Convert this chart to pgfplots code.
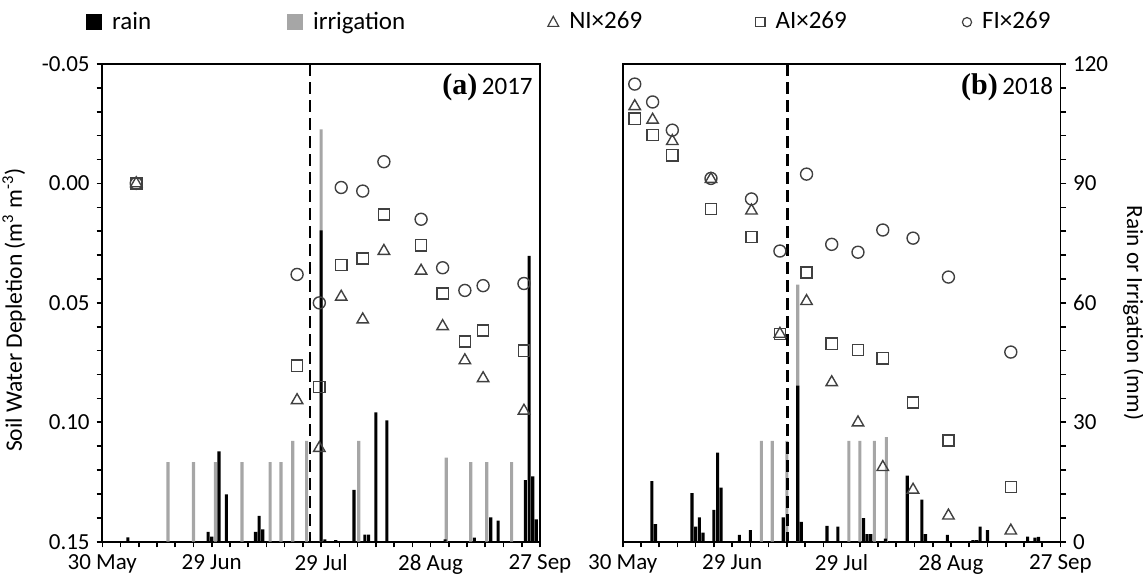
\documentclass[border=0pt]{standalone}
\usepackage{pgfplots}
\pgfplotsset{compat=1.18}
\usepackage{fontspec}
\setmainfont{Carlito}
\newfontfamily\timesfont{Liberation Serif}
\definecolor{irr}{HTML}{A6A6A6}
\definecolor{mk}{HTML}{404040}
\pgfplotsset{
  base/.style={
    scale only axis, width=218.85pt, height=238.85pt,
    xmin=0, xmax=120,
    axis line style={line width=0.9pt, black},
    tick style={line width=0.8pt, black},
    major tick length=2.8pt, minor tick length=2.8pt,
    tick align=outside,
    tick label style={font=\fontsize{11.5}{13}\selectfont},
  },
  bars/.style={ybar, bar width=0.85, bar shift=0pt, draw=none},
  NI/.style={only marks, mark=triangle, mark size=3.3pt, color=mk, mark options={line width=0.7pt}},
  AI/.style={only marks, mark=square, mark size=2.8pt, color=mk, mark options={line width=0.7pt}},
  FI/.style={only marks, mark=o, mark size=3pt, color=mk, mark options={line width=0.7pt}},
  dashln/.style={black, line width=1.1pt, dash pattern=on 6pt off 3pt},
  datex/.style={xtick={0,30,60,90,120}, xticklabels={30 May,29 Jun,29 Jul,28 Aug,27 Sep},
    minor x tick num=5, xtick pos=left},
}
\begin{document}
\begin{tikzpicture}
\path[use as bounding box] (0,0) rectangle (571.5pt,292pt);

% ---------- panel (a): bars ----------
\begin{axis}[base, datex, at={(51.15pt,21.15pt)}, anchor=south west,
  ymin=0, ymax=120, ytick=\empty]
\addplot[bars, fill=irr] table {
x mm
18 20
25 20
31 20
38.3 20
46 20
49 20
52.2 25.3
56 25.3
60 103.6
70.3 25.3
94.3 21.1
101 20
105.4 20
112.2 20
};
\addplot[bars, fill=black] table {
x mm
7 1.1
29 2.5
30 1.3
32 22.7
34 11.9
42 2.5
43 6.5
44 3.1
60 78.2
61 0.6
64 0.4
69 13.0
72 1.8
73 1.8
75 32.5
78 30.5
94 0.6
102 1.0
106.5 6.1
108.5 5.3
116 15.5
117 71.8
118 16.4
119 5.6
};
\node[anchor=east, inner sep=0pt] at (axis description cs:0.984,0.952)
  {{\timesfont\fontsize{15}{16}\selectfont\bfseries (a)} {\fontsize{12.5}{14}\selectfont 2017}};
\end{axis}

% ---------- panel (a): depletion ----------
\begin{axis}[base, at={(51.15pt,21.15pt)}, anchor=south west,
  ymin=-0.05, ymax=0.15, y dir=reverse, hide x axis,
  ytick={-0.05,0,0.05,0.1,0.15}, yticklabels={-0.05,0.00,0.05,0.10,0.15},
  minor y tick num=4, ytick pos=left,
  ylabel={Soil Water Depletion (m\textsuperscript{3} m\textsuperscript{-3})},
  every axis y label/.style={at={(axis description cs:-0.2017,0.485)}, rotate=90, anchor=center,
    font=\fontsize{11.8}{14}\selectfont},
  legend columns=5,
  legend style={at={(axis description cs:-0.0372,1.088)}, anchor=west, draw=none, fill=none,
    inner sep=0pt, font=\fontsize{12.5}{14}\selectfont,
    /tikz/every odd column/.append style={column sep=3pt},
    /tikz/column 2/.append style={column sep=66pt},
    /tikz/column 4/.append style={column sep=69pt},
    /tikz/column 6/.append style={column sep=54.5pt},
    /tikz/column 8/.append style={column sep=55.5pt}},
]
\addlegendimage{legend image code/.code={\fill[black] (0pt,-3.75pt) rectangle (7.5pt,3.75pt);}}
\addlegendentry{rain}
\addlegendimage{legend image code/.code={\fill[irr] (0pt,-3.75pt) rectangle (7.5pt,3.75pt);}}
\addlegendentry{irrigation}
\addlegendimage{legend image code/.code={\draw[mk, line width=0.6pt] (0.8pt,-2.2pt) -- (6.2pt,-2.2pt) -- (3.5pt,2.8pt) -- cycle;}}
\addlegendentry{NI×269}
\addlegendimage{legend image code/.code={\draw[mk, line width=0.6pt] (1.2pt,-2.4pt) rectangle (5.8pt,2.2pt);}}
\addlegendentry{AI×269}
\addlegendimage{legend image code/.code={\draw[mk, line width=0.6pt] (3.5pt,-0.1pt) circle (2.3pt);}}
\addlegendentry{FI×269}

\addplot[dashln, forget plot] coordinates {(57,-0.05) (57,0.15)};
\addplot[FI, forget plot] table {
x d
9.3 0.000
53.4 0.0381
59.5 0.0500
65.5 0.0017
71.4 0.0032
77.2 -0.0091
87.4 0.0150
93.3 0.0353
99.4 0.0448
104.4 0.0428
115.6 0.0419
};
\addplot[AI, forget plot] table {
x d
9.3 0.000
53.4 0.0763
59.5 0.0852
65.5 0.0342
71.4 0.0314
77.2 0.0130
87.4 0.0259
93.3 0.0461
99.4 0.0662
104.4 0.0616
115.6 0.0700
};
\addplot[NI, forget plot] table {
x d
9.3 0.000
53.4 0.0908
59.5 0.1108
65.5 0.0475
71.4 0.0570
77.2 0.0283
87.4 0.0366
93.3 0.0598
99.4 0.0741
104.4 0.0816
115.6 0.0952
};
\end{axis}

% ---------- panel (b): bars ----------
\begin{axis}[base, datex, at={(311.35pt,21.15pt)}, anchor=south west,
  ymin=0, ymax=120, ytick={0,30,60,90,120}, yticklabels={0,30,60,90,120},
  minor y tick num=4, ytick pos=right, yticklabel pos=right,
  ylabel={Rain or Irrigation (mm)},
  every axis y label/.style={at={(axis description cs:1.167,0.479)}, rotate=-90, anchor=center,
    font=\fontsize{11.6}{14}\selectfont},
]
\addplot[bars, fill=irr] table {
x mm
38 25.3
41 25.3
45 25.3
48 64.6
62 25.3
65 25.3
69 25.3
72.3 26.3
};
\addplot[bars, fill=black] table {
x mm
8 15.2
9 4.4
19 12.2
20 3.8
21 6.1
22 2.3
25 8.0
26 22.4
27 13.6
32 1.7
35 2.9
44 6.1
48 39.2
49 5.0
56 4.0
59 3.8
66 5.9
67 1.9
68 1.9
72 0.8
78 16.6
82 10.6
83 1.9
89 1.7
96 0.4
97 0.4
98 3.8
100 2.9
111 1.3
113 1.0
114 1.2
};
\node[anchor=east, inner sep=0pt] at (axis description cs:0.984,0.952)
  {{\timesfont\fontsize{15}{16}\selectfont\bfseries (b)} {\fontsize{12.5}{14}\selectfont 2018}};
\end{axis}

% ---------- panel (b): depletion ----------
\begin{axis}[base, at={(311.35pt,21.15pt)}, anchor=south west,
  ymin=-0.05, ymax=0.15, y dir=reverse, hide axis]
\addplot[dashln] coordinates {(45.2,-0.05) (45.2,0.15)};
\addplot[FI] table {
x d
3.3 -0.0416
8.2 -0.0341
13.6 -0.0223
24.2 -0.0021
35.3 0.0065
43.1 0.0283
50.4 -0.0039
57.3 0.0255
64.5 0.0288
71.3 0.0195
79.6 0.0229
89.3 0.0392
106.4 0.0706
};
\addplot[AI] table {
x d
3.3 -0.0271
8.2 -0.0202
13.6 -0.0118
24.2 0.0107
35.3 0.0224
43.1 0.0630
50.4 0.0373
57.3 0.0671
64.5 0.0697
71.3 0.0732
79.6 0.0917
89.3 0.1076
106.4 0.1271
};
\addplot[NI] table {
x d
3.3 -0.0323
8.2 -0.0266
13.6 -0.0177
24.2 -0.0018
35.3 0.0114
43.1 0.0630
50.4 0.0493
57.3 0.0833
64.5 0.1001
71.3 0.1188
79.6 0.1283
89.3 0.1391
106.4 0.1454
};
\end{axis}
\end{tikzpicture}
\end{document}
